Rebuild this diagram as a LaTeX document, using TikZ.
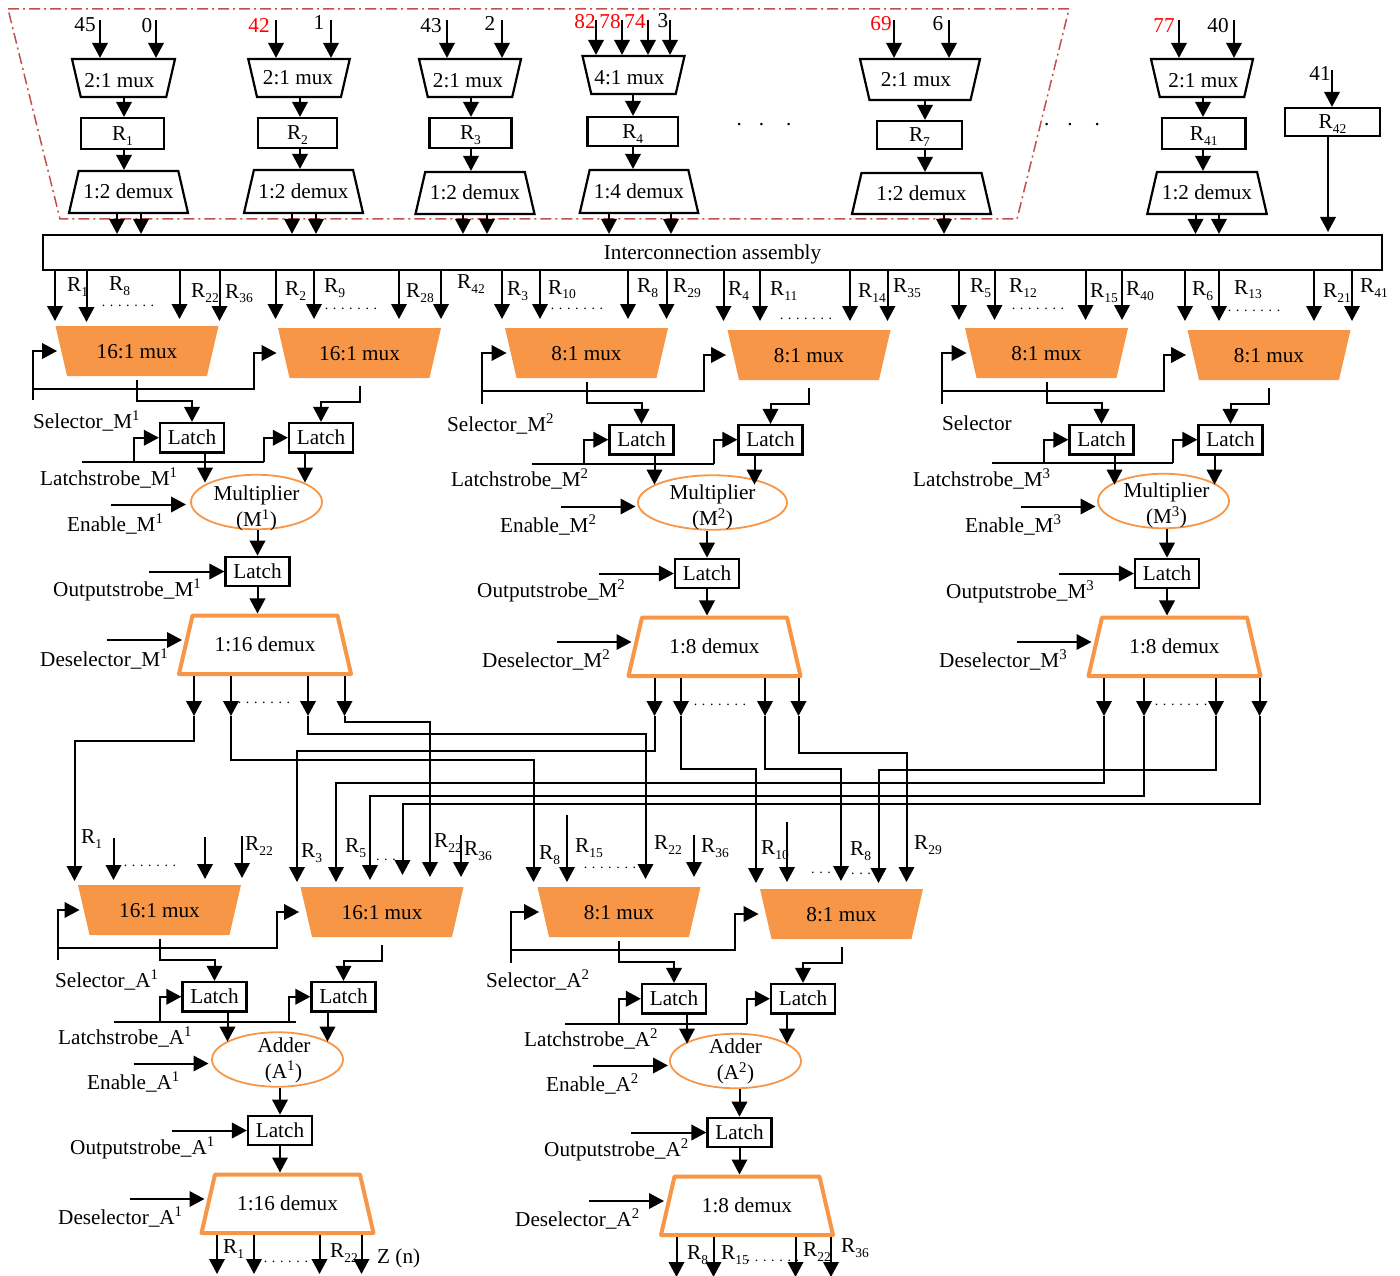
\documentclass[tikz,border=0pt]{standalone}
\usepackage{fontspec}
\setmainfont{Liberation Serif}
\usetikzlibrary{shapes.geometric,arrows.meta}

\definecolor{unitorange}{HTML}{F79646}
\definecolor{framered}{HTML}{C0504D}

\newcommand{\inoval}[3]{\makebox[0pt]{\smash{\raisebox{-#3pt}{\parbox[c]{120pt}{\centering #1\\#2}}}}}
\newcommand{\rsub}[1]{R\raisebox{-5pt}{\fontsize{13.5}{14}\selectfont #1}}

% one multiplier or adder path: tag, shift x, shift y, mux size, oval place, oval width, oval text, text drop
\newcommand{\datapath}[9]{
  \begin{scope}[shift={(#2,#3)}]
    \node[mainmux] (#1-ma) at (137,351) {#4:1 mux};
    \node[mainmux] (#1-mb) at (359.5,353) {#4:1 mux};
    \node[latchbox] (#1-la) at (192,437.75) {Latch};
    \node[latchbox] (#1-lb) at (321,437.75) {Latch};
    \node[unitoval, minimum width=#6] (#1-el) at (#5) {\inoval{#7}{#8}{#9}};
    \node[latchbox] (#1-lc) at (257.5,571.5) {Latch};
    \node[maindemux] (#1-dx) at (265,644.75) {1:#4 demux};
    \draw[sig] ([yshift=-4pt]#1-ma.south) -- ++(0,21) -| (#1-la.north);
    \draw[sig] ([yshift=-8pt]#1-mb.south) -- ++(0,15.5) -| (#1-lb.north);
    % into and out of the unit
    \draw[sig] (#1-la.south -| 205,0) -- ++(0,29);
    \draw[sig] (#1-lb.south -| 305,0) -- ++(0,29);
    \coordinate (#1-en) at (111,504.5);
    \draw[sig] (#1-en) -- ++(75,0);
    \draw[sig] (#1-el.south -| #1-lc) -- (#1-lc.north);
    \coordinate (#1-os) at (149,571.5);
    \draw[sig] (#1-os) -- (#1-lc.west);
    \draw[sig] (#1-lc.south) -- (#1-lc.south |- #1-dx.north);
    \coordinate (#1-ds) at (107,640);
    \draw[sig] (#1-ds) -- ++(75,0);
  \end{scope}
}

\begin{document}
\begin{tikzpicture}[x=1pt, y=-1pt,
  every node/.style={font=\fontsize{21.2}{26}\selectfont, inner sep=0pt},
  sig/.style={line width=2pt, -{Triangle[length=15pt,width=15.5pt]}},
  wire/.style={line width=2pt},
  regbox/.style={draw, line width=2.2pt, text height=14pt, text depth=0pt},
  latchbox/.style={regbox, minimum width=64pt, minimum height=29.5pt},
  busbox/.style={regbox, minimum width=1339pt, minimum height=35pt},
  trapshape/.style={trapezium, trapezium stretches body=true, trapezium left angle=77, trapezium right angle=77,
    text height=14pt, text depth=0pt},
  smalltrap/.style={trapshape, draw, line width=2.2pt},
  smallmux/.style={smalltrap, shape border rotate=180},
  smalldemux/.style={smalltrap},
  mainmux/.style={trapshape, shape border rotate=180, fill=unitorange, minimum width=163pt, inner ysep=18pt},
  maindemux/.style={trapshape, draw=unitorange, line width=4pt, line join=round, minimum width=172pt, inner ysep=22.25pt},
  unitoval/.style={draw=unitorange, line width=1.8pt, ellipse, minimum height=54.5pt},
  tag/.style={anchor=west},
  rtag/.style={anchor=west, text height=14pt, text depth=0pt},
  dotrow/.style={anchor=base, font=\fontsize{14}{14}\selectfont},
]
  \useasboundingbox (0,0) rectangle (1400,1276);

  \draw[draw=framered, line width=1.5pt, dash pattern=on 11pt off 4pt on 2pt off 4pt]
    (8,9) -- (1069,9) -- (1017,219) -- (60,219) -- cycle;

  % register columns
  \foreach \cl/\mx/\my/\mw/\mh/\rx/\ry/\rw/\rh/\dx/\dy/\dw/\dth/\ax/\nw/\mo/\mt in {
    1/123.5/78/103/38/122.5/133.5/83/31/128.5/192/119/42/124/2/-8/3,
    2/299/78/101.5/38/297.5/133/79/30/303.5/191.5/119/43/300/2/-2/0,
    3/470/78/102/38/470.5/133/82/30/475/193/119/42/471/2/-4/3,
    4/633.5/75/102/38/632.75/131.5/90.5/29/639/191.5/118.5/43/633/4/-8/3,
    7/920/79.5/120/41/919.5/135/85/28/921.5/193.5/139/41/925/2/-8/0,
    41/1202/78/102/38/1203.75/133.5/83.5/31/1207/193/119.5/42/1203/2/3/3} {
    \node[smallmux, minimum width=\mw, inner ysep={(\mh-14)/2}] (smx\cl) at (\mx,\my) {\hspace*{\mo pt}\raisebox{-\mt pt}{\nw:1 mux}};
    \node[regbox, minimum width=\rw, minimum height=\rh] (reg\cl) at (\rx,\ry) {\rsub{\cl}};
    \node[smalldemux, minimum width=\dw, inner ysep={(\dth-14)/2}] (sdx\cl) at (\dx,\dy) {1:\nw\ demux};
    \draw[sig] (smx\cl.south -| \ax,0) -- (reg\cl.north -| \ax,0);
    \draw[sig] (reg\cl.south -| \ax,0) -- (sdx\cl.north -| \ax,0);
  }
  \node[regbox, minimum width=95pt, minimum height=28pt] (reg42) at (1332.5,122) {\rsub{42}};
  \node[busbox] (bus) at (712.5,252.5) {Interconnection assembly};

  % inputs on top
  \foreach \x/\y/\cc/\v in {
    85/25/black/45, 147/26/black/0, 259/25/red/42, 319/23/black/1,
    431/26/black/43, 490/23/black/2, 585/22/red/82, 610/22/red/78,
    635/22/red/74, 663/21/black/3, 881/24/red/69, 938/24/black/6,
    1164/26/red/77, 1218/26/black/40, 1320/74/black/41} {
    \node[text=\cc] (num\v) at (\x,\y) {\v};
  }
  \foreach \x/\y/\nd [count=\k] in {
    100/20/smx1, 156/20/smx1, 276/20/smx2, 331/20/smx2, 447/20/smx3, 502/20/smx3,
    596/20/smx4, 622/20/smx4, 648/20/smx4, 670/20/smx4, 894/20/smx7, 949/20/smx7,
    1179/20/smx41, 1234/20/smx41, 1332/70/reg42} {
    \coordinate (top\k) at (\x,\y);
    \draw[sig] (top\k) -- (top\k |- \nd.north);
  }
  % into the interconnection
  \foreach \nd/\x in {sdx1/117, sdx1/141, sdx2/292, sdx2/316, sdx3/463, sdx3/487, sdx4/609, sdx4/671,
    sdx7/944, sdx41/1195.5, sdx41/1219} {
    \draw[sig] (\nd.south -| \x,0) -- (bus.north -| \x,0);
  }
  \draw[sig] (reg42.south -| 1328,0) -- (1328,232);

  \datapath{ma}{0}{0}{16}{256.5,502}{131}{Multiplier}{(M\textsuperscript{1})}{12}
  \datapath{mb}{449.5}{2}{8}{263,500.5}{149}{Multiplier}{(M\textsuperscript{2})}{10.5}
  \datapath{mc}{909.5}{2}{8}{254,499}{131}{\hspace*{6pt}Multiplier}{\hspace*{6pt}(M\textsuperscript{3})}{10}
  \datapath{aa}{22.5}{559}{16}{255,500.5}{131}{\hspace*{13pt}Adder}{\hspace*{12pt}(A\textsuperscript{1})}{6}
  \datapath{ab}{482}{561}{8}{253.5,500}{131}{Adder}{(A\textsuperscript{2})}{6}

  % selector lines
  \foreach \tg/\x/\ya/\yb/\xb in {ma/33/400/389/254, mb/482/404/391/704, mc/942/404/391/1164,
    aa/58/960/948/277, ab/511/963/950/735} {
    \coordinate (\tg-sel) at (\x,\ya);
    \coordinate (\tg-sj) at (\x,\yb);
    \draw[sig] (\tg-sel) |- ([xshift=-4pt]\tg-ma.west);
    \draw[sig] (\tg-sj) -- (\xb,\yb) |- ([xshift=-7pt]\tg-mb.west);
  }
  % latch strobes
  \foreach \tg/\y/\xa/\xb/\xc/\xd in {ma/462/82/134/264/264, mb/464/532/584/714/714, mc/463/992/1044/1173/1173,
    aa/1021.5/113.5/160/289/296, ab/1023.5/565/619/747/747} {
    \coordinate (\tg-ls) at (\xa,\y);
    \coordinate (\tg-le) at (\xd,\y);
    \draw[wire] (\tg-ls) -- (\tg-le);
    \draw[sig] (\xb,\y) |- (\tg-la.west);
    \draw[sig] (\xc,\y) |- (\tg-lb.west);
  }

  % from the interconnection down to the first muxes
  \foreach \x/\y in {55/321, 86.5/322, 179.5/319, 219.5/321, 275.5/319, 314/319, 399/319, 441/319,
    502/319, 540/319, 628/319, 666.5/319, 723.5/321, 760/321, 850/321, 887.5/321,
    959/320, 994.5/320, 1085.5/320, 1122/320, 1185/321, 1219/321, 1314/321, 1352/321} {
    \draw[sig] (bus.south -| \x,0) -- (\x,\y);
  }

  % crossing lines from the demuxes to the second muxes
  \foreach \nd/\x/\ym/\xe/\ye [count=\k] in {
    ma-dx/194/741/74.5/881, ma-dx/231/760/533.5/882, ma-dx/308/734/645.5/879, ma-dx/344.5/722/430/877,
    mb-dx/654.5/751/297/882, mb-dx/681/769/756/883, mb-dx/765/769/841/881, mb-dx/798.5/753/906.5/882,
    mc-dx/1104/783/336/882, mc-dx/1144/796/370/880, mc-dx/1216/770/878.5/883, mc-dx/1259.5/804/402.5/875} {
    \coordinate (tap\k) at (\x,716);
    \coordinate (bend\k) at (\x,\ym);
    \coordinate (sink\k) at (\xe,\ye);
    \draw[sig] (\nd.south -| tap\k) -- (tap\k);
    \draw[sig] (tap\k) -- (bend\k) -| (sink\k);
  }
  \foreach \x/\ya/\yb [count=\k] in {113.5/838/880, 205/837/879, 242/836/878, 461/835/877, 567/815/882, 694/835/877, 787/822/882} {
    \coordinate (free\k) at (\x,\ya);
    \draw[sig] (free\k) -- (\x,\yb);
  }

  % outputs
  \foreach \nd/\x/\y in {aa-dx/217/1274, aa-dx/254/1274, aa-dx/319.5/1274, aa-dx/361.5/1274,
    ab-dx/676.5/1277, ab-dx/713.5/1277, ab-dx/795.5/1277, ab-dx/831/1277} {
    \draw[sig] (\nd.south -| \x,0) -- (\x,\y);
  }

  % signal names
  \foreach \x/\y/\sg/\un/\nr in {
    33/421/Selector/M/1, 40/478/Latchstrobe/M/1, 67/524/Enable/M/1, 53/590/Outputstrobe/M/1, 40/659/Deselector/M/1,
    447/424/Selector/M/2, 451/479/Latchstrobe/M/2, 500/525/Enable/M/2, 477/591/Outputstrobe/M/2, 482/660/Deselector/M/2,
    913/479/Latchstrobe/M/3, 965/525/Enable/M/3, 946/592/Outputstrobe/M/3, 939/660/Deselector/M/3,
    55/980/Selector/A/1, 58/1037/Latchstrobe/A/1, 87/1082/Enable/A/1, 70/1148/Outputstrobe/A/1, 58/1217/Deselector/A/1,
    486/980/Selector/A/2, 524/1039/Latchstrobe/A/2, 546/1084/Enable/A/2, 544/1150/Outputstrobe/A/2, 515/1219/Deselector/A/2} {
    \node[tag] (\sg-\un\nr) at (\x,\y) {\sg\_\un\textsuperscript{\nr}};
  }
  \node[tag] (sel-m3) at (942,423) {Selector};
  \node[tag] (z-out) at (377,1258) {Z (n)};

  % register names
  \foreach \x/\y/\nr [count=\k] in {
    67/284/1, 109/283/8, 191/290/22, 225/291/36, 285/288/2, 324/285/9, 406/290/28, 457/281/42,
    507/288/3, 548/287/10, 637/285/8, 673/285/29, 728/288/4, 770/288/11, 858/290/14, 893/285/35,
    970/285/5, 1009/285/12, 1090/290/15, 1126/288/40, 1192/288/6, 1234/287/13, 1323/290/21, 1360/285/41,
    81/836/1, 245/843/22, 301/850/3, 345/845/5, 434/840/22, 464/848/36, 539/852/8, 575/845/15,
    654/842/22, 701/845/36, 761/847/10, 850/848/8, 914/842/29,
    223/1246/1, 330/1250/22, 687/1252/8, 721/1252/15, 803/1249/22, 841/1245/36} {
    \node[rtag] (rn\k) at (\x,\y) {\rsub{\nr}};
  }

  % dots
  \foreach \x/\y [count=\k] in {128/306, 351/309, 577/309, 806/319, 1038/309, 1254/311, 264/703, 720/705, 1181/705,
    150/866, 610/868, 290/1262, 773/1261} {
    \node[dotrow] (gap\k) at (\x,\y) {. . . . . . .};
  }
  \foreach \x/\y [count=\k] in {386/860, 821/873, 861/874} {
    \node[dotrow] (gapb\k) at (\x,\y) {. . .};
  }
  \node[anchor=base] (moreb) at (764,126) {.\hspace{17pt}.\hspace{22pt}.};
  \node[anchor=base] (morec) at (1072,126) {.\hspace{18pt}.\hspace{22pt}.};
\end{tikzpicture}
\end{document}
